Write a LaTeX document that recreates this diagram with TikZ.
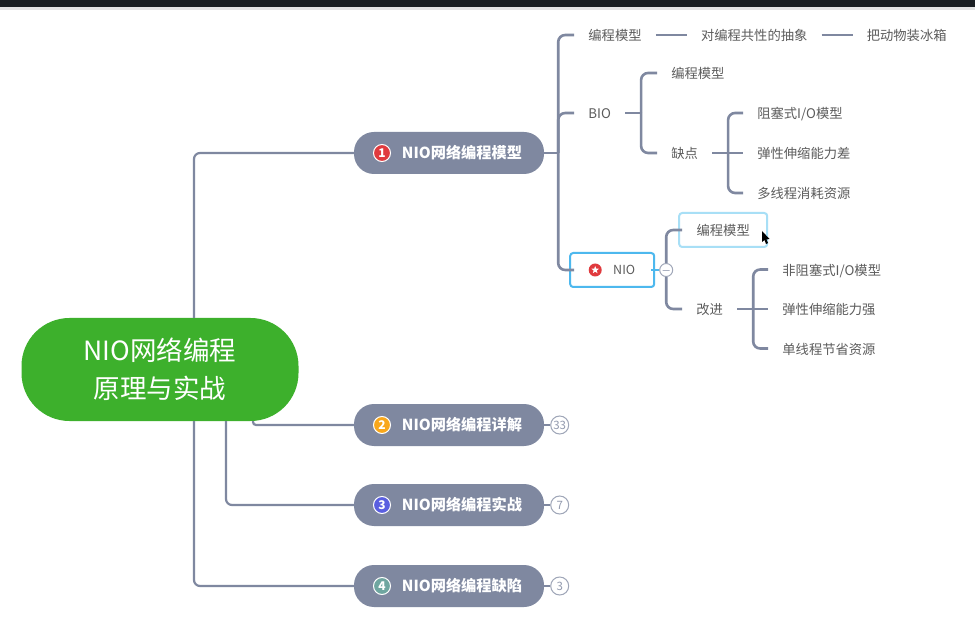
\documentclass[tikz,border=0pt]{standalone}
\usepackage{fontspec}
\setmainfont{Noto Sans CJK SC}
\usetikzlibrary{positioning, shapes.geometric}
\definecolor{linkgray}{HTML}{7F88A0}
\definecolor{leafgray}{HTML}{5C5C5C}
\definecolor{rootgreen}{HTML}{3DB02C}
\definecolor{boxblue}{HTML}{4DB8EE}
\definecolor{paleblue}{HTML}{A8DFF6}
\definecolor{barblack}{HTML}{1B1F23}
\definecolor{mark1}{HTML}{E03A3E}
\definecolor{mark2}{HTML}{F8A71B}
\definecolor{mark3}{HTML}{5A5FE0}
\definecolor{mark4}{HTML}{6FA6A0}
\tikzset{
  root/.style={fill=rootgreen, text=white, rounded corners=48pt, minimum width=277pt, minimum height=103pt, align=center, font=\fontsize{26.5}{37.5}\selectfont, inner sep=0pt},
  topic/.style={fill=linkgray, text=white, rounded corners=20pt, minimum width=190pt, minimum height=42pt, font=\fontsize{15.2}{18}\selectfont\bfseries, inner sep=0pt},
  badge/.style={circle, draw=white, line width=1pt, text=white, minimum size=17pt, inner sep=0pt, font=\fontsize{12}{14}\selectfont\bfseries},
  leaf/.style={text=leafgray, inner xsep=14pt, inner ysep=0pt, text height=12.5pt, text depth=1pt, font=\fontsize{13.3}{15}\selectfont},
  count/.style={circle, draw=linkgray!75, line width=1pt, fill=white, text=linkgray!85, minimum size=18pt, inner sep=0pt, font=\fontsize{11.5}{12}\selectfont},
  selbox/.style={draw=boxblue, line width=2pt, fill=white, rounded corners=3pt, minimum width=84pt, minimum height=34pt, inner sep=0pt},
  pickbox/.style={draw=paleblue, line width=2pt, fill=white, rounded corners=3pt, minimum width=88pt, minimum height=34pt, inner sep=0pt, text=leafgray, text height=12.5pt, text depth=1pt, font=\fontsize{13.3}{15}\selectfont},
  link/.style={draw=linkgray, line width=2.6pt, rounded corners=7pt},
  thin link/.style={draw=linkgray, line width=2.2pt, rounded corners=6pt}
}
\begin{document}
\begin{tikzpicture}[x=1pt,y=1pt]
  \useasboundingbox (0,0) rectangle (975,-636);
  \fill[white] (0,0) rectangle (975,-636);

% window edge at the top
  \fill[barblack] (0,0) rectangle (975,-7);
  \fill[black!10] (0,-7) rectangle (975,-10);

% define the root and the topics
  \node[root] (root) at (160,-369.5) {NIO网络编程\\原理与实战};
  \node[topic] (t1) at (449,-153) {\hspace{26pt}NIO网络编程模型};
  \node[topic] (t2) [below=272pt of t1.center, anchor=center] {\hspace{26pt}NIO网络编程详解};
  \node[topic] (t3) [below=80pt of t2.center, anchor=center] {\hspace{26pt}NIO网络编程实战};
  \node[topic] (t4) [below=81pt of t3.center, anchor=center] {\hspace{26pt}NIO网络编程缺陷};

  \node[badge, fill=mark1] (b1) at ([xshift=-67pt]t1.center) {1};
  \node[badge, fill=mark2] (b2) at ([xshift=-67pt]t2.center) {2};
  \node[badge, fill=mark3] (b3) at ([xshift=-67pt]t3.center) {3};
  \node[badge, fill=mark4] (b4) at ([xshift=-67pt]t4.center) {4};

  \node[count] (n2) [right=6pt of t2] {33};
  \node[count] (n3) [right=6pt of t3] {7};
  \node[count] (n4) [right=6pt of t4] {3};

% first level of the topic
  \coordinate[right=14pt of t1] (hub1);
  \node[leaf] (model) [above=118pt of hub1, anchor=west, xshift=16pt] {编程模型};
  \node[leaf] (abstract) [right=31pt of model] {对编程共性的抽象};
  \node[leaf] (fridge) [right=31pt of abstract] {把动物装冰箱};
  \node[leaf] (bio) [above=40pt of hub1, anchor=west, xshift=16pt] {BIO};
  \node[selbox] (nio) [below=157pt of bio.west, anchor=west, xshift=-5pt] {};
  \node[circle, fill=mark1, minimum size=13pt, inner sep=0pt] (niostar) at ([xshift=-17pt]nio.center) {};
  \node[star, star points=5, star point ratio=2.4, fill=white, minimum size=8pt, inner sep=0pt] (niostarin) at (niostar) {};
  \node[text=leafgray, font=\fontsize{12.5}{15}\selectfont, inner sep=0pt] (niotext) at ([xshift=12pt]nio.center) {NIO};

% under BIO
  \coordinate[right=16pt of bio] (hub2);
  \node[leaf] (biomodel) [above=40pt of hub2, anchor=west, xshift=16pt] {编程模型};
  \node[leaf] (lack) [below=40pt of hub2, anchor=west, xshift=16pt] {缺点};
  \coordinate[right=16pt of lack] (hub3);
  \node[leaf] (lack2) [right=31pt of lack] {弹性伸缩能力差};
  \node[leaf] (lack1) [above=40pt of lack2.west, anchor=west] {阻塞式I/O模型};
  \node[leaf] (lack3) [below=40pt of lack2.west, anchor=west] {多线程消耗资源};

% under NIO
  \node[pickbox] (niomodel) [right=23pt of nio.east, anchor=west, yshift=40pt] {编程模型};
  \node[leaf] (better) [below=79pt of niomodel.west, anchor=west, xshift=4pt] {改进};
  \coordinate[right=16pt of better] (hub4);
  \node[leaf] (good2) [right=31pt of better] {弹性伸缩能力强};
  \node[leaf] (good1) [above=39.5pt of good2.west, anchor=west] {非阻塞式I/O模型};
  \node[leaf] (good3) [below=39.5pt of good2.west, anchor=west] {单线程节省资源};
  \node[circle, draw=linkgray!75, line width=1pt, fill=white, minimum size=13pt, inner sep=0pt] (fold) [right=4pt of nio] {};
  \node[draw=linkgray, line width=0.9pt, minimum width=7pt, minimum height=0pt, inner sep=0pt] (foldbar) at (fold) {};

% define the links
  \draw[thin link] ([xshift=34pt]root.north) |- (t1.west);
  \draw[thin link, rounded corners=3pt] ([xshift=93pt]root.south) |- (t2.west);
  \draw[thin link] ([xshift=66pt]root.south) |- (t3.west);
  \draw[thin link] ([xshift=34pt]root.south) |- (t4.west);
  \draw[thin link] (t2.east) -- (n2.west);
  \draw[thin link] (t3.east) -- (n3.west);
  \draw[thin link] (t4.east) -- (n4.west);

  \draw[link] (t1.east) -- (hub1);
  \draw[link] (hub1) |- (model.west);
  \draw[link] (hub1) |- (bio.west);
  \draw[link] (hub1) |- ([xshift=5pt]nio.west);
  \draw[link] (model.east) -- (abstract.west);
  \draw[link] (abstract.east) -- (fridge.west);

  \draw[link] (bio.east) -- (hub2);
  \draw[link] (hub2) |- (biomodel.west);
  \draw[link] (hub2) |- (lack.west);
  \draw[link] (lack.east) -- (lack2.west);
  \draw[link] (hub3) |- (lack1.west);
  \draw[link] (hub3) |- (lack3.west);

  \draw[draw=boxblue, line width=2.4pt] ([xshift=-4pt]nio.east) -- (fold.west);
  \draw[link] (fold.north) |- ([xshift=4pt]niomodel.west);
  \draw[link] (fold.south) |- (better.west);
  \draw[link] (better.east) -- (good2.west);
  \draw[link] (hub4) |- (good1.west);
  \draw[link] (hub4) |- (good3.west);

% mouse pointer
  \fill[black] (762,-231) -- (762,-242) -- (764.5,-240) -- (766,-244) -- (768,-243) -- (766.5,-239.5) -- (769.5,-239) -- cycle;
\end{tikzpicture}
\end{document}
